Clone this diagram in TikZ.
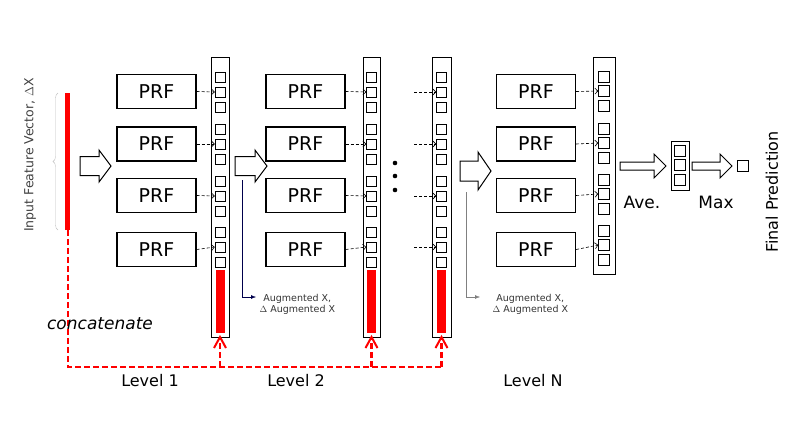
\documentclass[tikz,border=0pt]{standalone}
\usepackage{fontspec}
\setmainfont{DejaVu Sans}
\usetikzlibrary{arrows.meta,decorations.pathreplacing}
\newcommand\blkarrow[6]{% x1 x2 yc bodyhalf headhalf headlen
  \draw[line width=1pt,fill=white] (#1,#3-#4) -- (#2-#6,#3-#4) -- (#2-#6,#3-#5) -- (#2,#3) -- (#2-#6,#3+#5) -- (#2-#6,#3+#4) -- (#1,#3+#4) -- cycle;}
\begin{document}
\begin{tikzpicture}[x=1pt,y=-1pt,
  prf/.style={draw,line width=1.3pt,minimum width=79pt,minimum height=34pt,font=\fontsize{19}{19}\selectfont,inner sep=0pt},
  sq/.style={draw,minimum size=10pt,inner sep=0pt},
  da/.style={densely dashed,-{Straight Barb[length=3pt]},semithick},
  rd/.style={draw=red,line width=2.2pt,dash pattern=on 6pt off 3pt},
  lbl/.style={font=\fontsize{16}{16}\selectfont},
  aug/.style={font=\fontsize{9.5}{11}\selectfont,align=center,text=black!80}]
\useasboundingbox (0,0) rectangle (796,440);
% input
\fill[red] (65,93) rectangle (70,230);
\coordinate (in) at (68,230);
\draw[gray!50,decorate,decoration={brace,amplitude=5pt}] (58,230) -- (58,93);
\node[rotate=90,font=\fontsize{12.5}{13}\selectfont,text=black!75] (ifv) at (30,155) {Input Feature Vector, $\Delta$X};
% columns 1-3
\foreach \n/\xl/\xr in {1/211/229,2/363/380,3/432/451}{
  \draw[thick] (\xl,57) rectangle (\xr,337);
  \foreach \g/\yt in {a/72,b/124,c/176,d/227}{
    \foreach \k in {0,1,2}{
      \node[sq] (s\n\g\k) at ({(\xl+\xr)/2},{\yt+5+\k*15}) {};}}
  \fill[red] ({(\xl+\xr)/2-4.5},270) rectangle ({(\xl+\xr)/2+4.5},333);
  \coordinate (b\n) at ({(\xl+\xr)/2},337);
}
% column 4
\draw[thick] (593,57) rectangle (615,274);
\foreach \g/\yt in {a/71,b/123,c/174,d/225}{
  \foreach \k in {0,1,2}{
    \node[sq,minimum size=11pt] (s4\g\k) at (604,{\yt+5.5+\k*14.5}) {};}}
% PRFs
\foreach \c/\x in {1/156.5,2/305.5,4/536}{
  \foreach \g/\y in {a/91.5,b/144,c/195.5,d/249.5}{
    \node[prf] (p\c\g) at (\x,\y) {PRF};}}
\foreach \g in {a,b,c,d}{
  \draw[da] (p1\g.east) -- (s1\g1.west);
  \draw[da] (p2\g.east) -- (s2\g1.west);
  \draw[da] (p4\g.east) -- (s4\g1.west);
  \coordinate (q\g) at ([xshift=-22pt]s3\g1.west);
  \draw[da] (q\g) -- (s3\g1.west);}
% dots
\foreach \y in {163,176,190} \fill (395,\y) circle (2.3pt);
% block arrows
\blkarrow{80}{111}{166}{9.5}{16}{12}
\blkarrow{235}{267}{166}{9.5}{16}{12}
\blkarrow{460}{491}{171}{10}{19}{13}
\blkarrow{620}{666}{166}{4}{12}{12}
\blkarrow{692}{732}{166}{4}{12}{12}
% small column and final
\draw[thick] (671,141) rectangle (689,190);
\foreach \k/\y in {0/150.5,1/165,2/179.5} \node[sq,minimum size=11pt] (m\k) at (680,\y) {};
\node[sq,minimum size=11pt] (fin) at (742.5,166) {};
\node[lbl,font=\fontsize{17}{17}\selectfont] (ave) at (642,202) {Ave.};
\node[lbl,font=\fontsize{17}{17}\selectfont] (max) at (716,202) {Max};
\node[lbl,rotate=90] (fp) at (772,192) {Final Prediction};
% augmented
\coordinate (g1) at (242,180); \coordinate (g1e) at (256,297);
\draw[thin,black!70!blue,-{Latex[length=5pt]}] (g1) |- (g1e);
\node[aug,anchor=west] (t1) at (256,304) {Augmented X,\\$\Delta$ Augmented X};
\coordinate (g2) at (466,192); \coordinate (g2e) at (480,297);
\draw[thin,gray,-{Latex[length=5pt]}] (g2) |- (g2e);
\node[aug,anchor=west] (t2) at (489,304) {Augmented X,\\$\Delta$ Augmented X};
% concatenate
\coordinate (c0) at (68,367);
\draw[rd] (in) -- (c0) -- (442,367);
\foreach \n/\x in {1/220,2/371.5,3/441.5}{
  \coordinate (u\n) at (\x,367);
  \draw[draw=red,line width=2pt] ([shift={(-6,11)}]b\n) -- (b\n) -- ([shift={(6,11)}]b\n);
  \draw[rd] (u\n) -- (b\n);}
\node[lbl,font=\itshape\fontsize{17}{17}\selectfont] (cat) at (100,324) {concatenate};
\node[lbl] (l1) at (150,381) {Level 1};
\node[lbl] (l2) at (296,381) {Level 2};
\node[lbl] (ln) at (533,381) {Level N};
\end{tikzpicture}
\end{document}
